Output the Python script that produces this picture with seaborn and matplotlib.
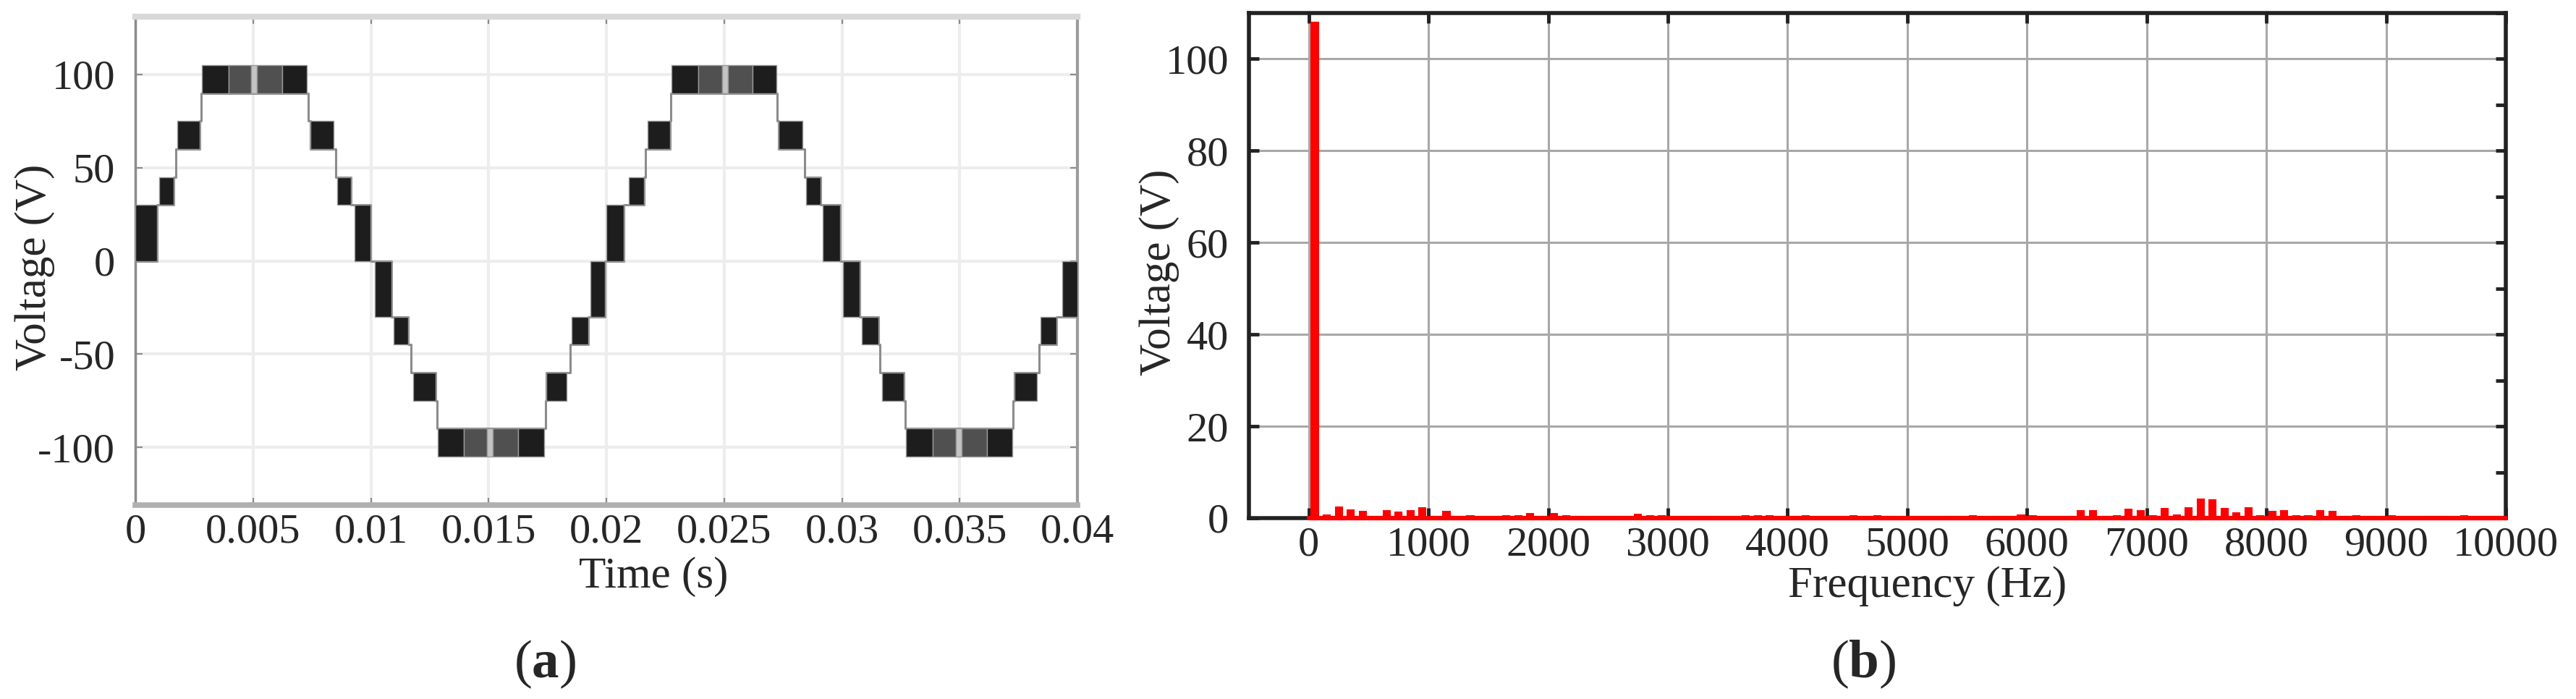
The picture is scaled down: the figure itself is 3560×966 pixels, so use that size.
import numpy as np
import pandas as pd
import matplotlib
matplotlib.use("Agg")
import matplotlib.pyplot as plt
from matplotlib.ticker import MultipleLocator
import seaborn as sns

# 1. Data: inverter output voltage (panel a)
# staircase path (ms, V), drawn as steps-post
step_t_ms = [0.00, 0.91, 1.63, 1.72, 2.72, 2.79, 7.33, 7.42, 8.52, 9.15, 9.99,
             10.87, 11.59, 11.71, 12.75, 12.81, 17.41, 17.45, 18.45, 19.23, 19.95,
             20.73, 21.61, 21.67, 22.71, 22.74, 27.25, 27.31, 28.41, 29.10, 29.91,
             30.76, 31.54, 31.60, 32.64, 32.70, 37.27, 37.34, 38.37, 39.12, 40.00]
step_v = [0, 30, 45, 60, 75, 90, 75, 60, 45, 30, 0,
          -30, -45, -60, -75, -90, -75, -60, -45, -30, 0,
          30, 45, 60, 75, 90, 75, 60, 45, 30, 0,
          -30, -45, -60, -75, -90, -75, -60, -45, -30, -30]

# PWM switching bands (ms start, ms end, low V, high V, density 0=dense 1=medium 2=sparse)
blk_start = [0.00, 1.00, 1.79, 2.82, 3.95, 4.92, 5.17, 6.25, 7.42, 8.58, 9.30,
             10.18, 10.96, 11.81, 12.84, 13.95, 14.94, 15.19, 16.25, 17.45, 18.54, 19.32,
             20.01, 20.95, 21.74, 22.77, 23.90, 24.90, 25.15, 26.20, 27.31, 28.47, 29.19,
             30.04, 30.85, 31.70, 32.73, 33.85, 34.83, 35.08, 36.15, 37.34, 38.43, 39.37]
blk_end = [0.91, 1.63, 2.72, 3.95, 4.92, 5.17, 6.25, 7.27, 8.43, 9.15, 9.99,
           10.87, 11.59, 12.75, 13.95, 14.94, 15.19, 16.25, 17.35, 18.32, 19.23, 19.95,
           20.73, 21.61, 22.71, 23.90, 24.90, 25.15, 26.20, 27.22, 28.34, 29.10, 29.91,
           30.76, 31.54, 32.64, 33.85, 34.83, 35.08, 36.15, 37.24, 38.27, 39.12, 40.00]
blk_low = [0, 30, 60, 90, 90, 90, 90, 90, 60, 30, 0,
           -30, -45, -75, -105, -105, -105, -105, -105, -75, -45, -30,
           0, 30, 60, 90, 90, 90, 90, 90, 60, 30, 0,
           -30, -45, -75, -105, -105, -105, -105, -105, -75, -45, -30]
blk_high = [30, 45, 75, 105, 105, 105, 105, 105, 75, 45, 30,
            0, -30, -60, -90, -90, -90, -90, -90, -60, -30, 0,
            30, 45, 75, 105, 105, 105, 105, 105, 75, 45, 30,
            0, -30, -60, -90, -90, -90, -90, -90, -60, -30, 0]
blk_density = [0, 0, 0, 0, 1, 2, 1, 0, 0, 0, 0,
               0, 0, 0, 0, 1, 2, 1, 0, 0, 0, 0,
               0, 0, 0, 0, 1, 2, 1, 0, 0, 0, 0,
               0, 0, 0, 0, 1, 2, 1, 0, 0, 0, 0]

time_ticks = [0, 0.005, 0.01, 0.015, 0.02, 0.025, 0.03, 0.035, 0.04]
time_labels = ["0", "0.005", "0.01", "0.015", "0.02", "0.025", "0.03", "0.035", "0.04"]
volt_ticks_a = [-100, -50, 0, 50, 100]

# 2. Data: FFT spectrum (panel b), odd-order components every 100 Hz from 50 Hz
freq_hz = np.arange(50, 10000, 100)
spec_v = [108, 0.7, 2.4, 1.75, 1.4, 0.05, 1.6, 1.25, 1.6, 2.25,
          0.25, 1.45, 0.25, 0.4, 0.1, 0.05, 0.55, 0.4, 0.9, 0.15,
          0.9, 0.55, 0.3, 0.15, 0.25, 0.3, 0.25, 0.8, 0.45, 0.4,
          0.3, 0.3, 0.3, 0.25, 0.1, 0.2, 0.4, 0.4, 0.4, 0.25,
          0.25, 0.4, 0.1, 0.15, 0.15, 0.4, 0.3, 0.4, 0.3, 0.05,
          0.25, 0.1, 0.1, 0.3, 0.15, 0.4, 0.1, 0.25, 0.1, 0.7,
          0.4, 0.1, 0.1, 0.25, 1.6, 1.6, 0.25, 0.4, 1.9, 1.6,
          0.4, 2.0, 0.7, 2.2, 4.05, 3.9, 2.0, 1.05, 2.2, 0.4,
          1.4, 1.6, 0.55, 0.55, 1.6, 1.45, 0.25, 0.55, 0.25, 0.1,
          0.4, 0.1, 0.1, 0.25, 0.25, 0.1, 0.4, 0.25, 0.25, 0.05]
spectrum_span = [0, 10000]
freq_ticks = list(range(0, 10001, 1000))
volt_ticks_b = [0, 20, 40, 60, 80, 100]

# 3. Style
sns.set_theme(style="white")
plt.rcParams["font.family"] = ["Liberation Serif", "DejaVu Serif"]
plt.rcParams["axes.unicode_minus"] = False
plt.rcParams["mathtext.fontset"] = "custom"
plt.rcParams["mathtext.rm"] = "Liberation Serif"
plt.rcParams["mathtext.bf"] = "Liberation Serif:bold"

tick_fs = 42
label_fs = 44

fig = plt.figure(figsize=(35.6, 9.66), dpi=100)
ax1 = fig.add_axes([0.05253, 0.27743, 0.36573, 0.69876])
ax2 = fig.add_axes([0.48483, 0.25880, 0.48792, 0.72257])

# 4. Panel (a): voltage waveform
shade = {0: "#1d1d1d", 1: "#505050", 2: "#c4c4c4"}
for t0, t1, lo, hi, d in zip(blk_start, blk_end, blk_low, blk_high, blk_density):
    ax1.fill_between([t0 / 1000, t1 / 1000], lo, hi, color=shade[d],
                     edgecolor="#9a9a9a", linewidth=1.0, zorder=3)

wave = pd.DataFrame({"t": np.array(step_t_ms) / 1000, "v": step_v})
sns.lineplot(data=wave, x="t", y="v", drawstyle="steps-post", color="#8c8c8c",
             linewidth=2.2, ax=ax1, zorder=2)

ax1.set_xlim(0, 0.04)
ax1.set_ylim(-131, 131)
ax1.set_xticks(time_ticks)
ax1.set_xticklabels(time_labels)
ax1.set_yticks(volt_ticks_a)
ax1.set_yticklabels([str(v) for v in volt_ticks_a])
ax1.grid(True, color="#ededed", linewidth=3)
ax1.tick_params(axis="both", direction="in", length=7, width=1.5, color="#8c8c8c",
                labelsize=tick_fs, top=True, right=True, bottom=True, left=True)
ax1.tick_params(axis="x", pad=8)
ax1.tick_params(axis="y", pad=20)
ax1.spines["top"].set_color("#d8d8d8")
ax1.spines["top"].set_linewidth(6)
ax1.spines["bottom"].set_color("#b0b0b0")
ax1.spines["bottom"].set_linewidth(5.5)
ax1.spines["left"].set_color("#8c8c8c")
ax1.spines["left"].set_linewidth(2.5)
ax1.spines["right"].set_color("#9c9c9c")
ax1.spines["right"].set_linewidth(3)
ax1.set_xlabel("Time (s)", fontsize=label_fs)
ax1.set_ylabel("Voltage (V)", fontsize=label_fs)
ax1.xaxis.set_label_coords(0.55, -0.105)
ax1.yaxis.set_label_coords(-0.085, 0.487)

# 5. Panel (b): FFT spectrum
spec = pd.DataFrame({"f": freq_hz, "v": spec_v})
sns.barplot(data=spec, x="f", y="v", native_scale=True, width=0.55, color="#ff0000",
            saturation=1, edgecolor="#ff0000", linewidth=1.5, errorbar=None,
            ax=ax2, zorder=3)
ax2.plot(spectrum_span, [0, 0], color="#ff0000", linewidth=4.5, solid_capstyle="round",
         clip_on=False, zorder=4)

ax2.set_xlim(-500, 10000)
ax2.set_ylim(0, 110)
ax2.set_xticks(freq_ticks)
ax2.set_xticklabels([str(f) for f in freq_ticks])
ax2.set_yticks(volt_ticks_b)
ax2.yaxis.set_minor_locator(MultipleLocator(10))
ax2.set_axisbelow(True)
ax2.grid(True, which="major", color="#a8a8a8", linewidth=2.2)
ax2.tick_params(axis="both", which="major", direction="in", length=10, width=3.5,
                color="#222222", labelsize=tick_fs, top=True, right=True, bottom=True, left=True)
ax2.tick_params(axis="y", which="minor", direction="in", length=10, width=3.5,
                color="#222222", left=False, right=True)
ax2.tick_params(axis="x", pad=8)
ax2.tick_params(axis="y", pad=20)
for s in ax2.spines.values():
    s.set_color("#222222")
    s.set_linewidth(4)
ax2.set_xlabel("Frequency (Hz)", fontsize=label_fs)
ax2.set_ylabel("Voltage (V)", fontsize=label_fs)
ax2.xaxis.set_label_coords(0.54, -0.095)
ax2.yaxis.set_label_coords(-0.055, 0.487)

# 6. Panel captions
fig.text(0.2115, 0.05, r"($\mathbf{a}$)", fontsize=54, ha="center", va="center")
fig.text(0.7233, 0.05, r"($\mathbf{b}$)", fontsize=54, ha="center", va="center")

plt.savefig("out.png", dpi=100)
plt.close()
